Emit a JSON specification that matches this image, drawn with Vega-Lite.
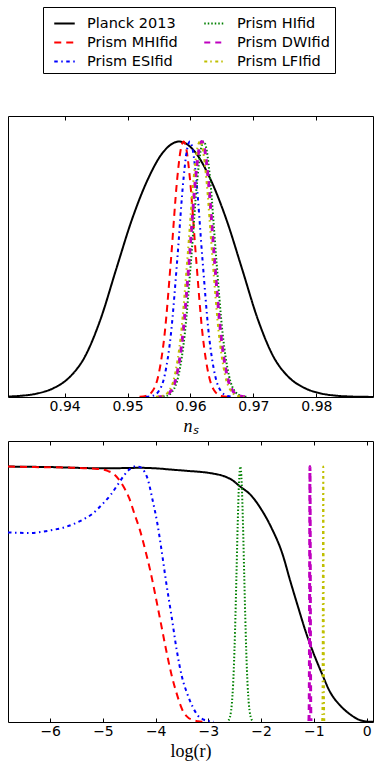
{
  "$schema": "https://vega.github.io/schema/vega-lite/v6.json",
  "background": "white",
  "padding": {"left": 7, "top": 6, "right": 0, "bottom": 0},
  "config": {
    "view": {"stroke": "#000", "strokeWidth": 1},
    "axis": {"labelFont": "DejaVu Sans", "labelFontSize": 14, "labelColor": "#000", "tickColor": "#000", "tickWidth": 1, "domain": false, "grid": false, "tickSize": -4, "labelPadding": 6, "titleFont": "Liberation Serif", "titleFontSize": 18, "titleFontWeight": "normal", "titleColor": "#000", "titlePadding": 4},
    "legend": {"labelFont": "DejaVu Sans", "labelFontSize": 14.5, "labelColor": "#000", "symbolType": "stroke", "symbolSize": 420, "symbolStrokeWidth": 2, "labelOffset": 11, "columnPadding": 20, "rowPadding": 1, "padding": 5, "symbolOffset": 5, "strokeColor": "#000", "fillColor": "#fff"}
  },
  "datasets": {
    "ns": [
      {"s": "Planck 2013", "x": 0.9307, "y": 0.0017}, {"s": "Planck 2013", "x": 0.9332, "y": 0.0051}, {"s": "Planck 2013", "x": 0.9357, "y": 0.014}, {"s": "Planck 2013", "x": 0.9382, "y": 0.0343}, {"s": "Planck 2013", "x": 0.9407, "y": 0.0756}, {"s": "Planck 2013", "x": 0.9432, "y": 0.157}, {"s": "Planck 2013", "x": 0.9457, "y": 0.304}, {"s": "Planck 2013", "x": 0.9482, "y": 0.501}, {"s": "Planck 2013", "x": 0.9507, "y": 0.695}, {"s": "Planck 2013", "x": 0.9532, "y": 0.851}, {"s": "Planck 2013", "x": 0.9557, "y": 0.96}, {"s": "Planck 2013", "x": 0.9582, "y": 1.0}, {"s": "Planck 2013", "x": 0.9607, "y": 0.96}, {"s": "Planck 2013", "x": 0.9632, "y": 0.851}, {"s": "Planck 2013", "x": 0.9657, "y": 0.695}, {"s": "Planck 2013", "x": 0.9682, "y": 0.501}, {"s": "Planck 2013", "x": 0.9707, "y": 0.304}, {"s": "Planck 2013", "x": 0.9732, "y": 0.157}, {"s": "Planck 2013", "x": 0.9757, "y": 0.0756}, {"s": "Planck 2013", "x": 0.9782, "y": 0.0343}, {"s": "Planck 2013", "x": 0.9807, "y": 0.014}, {"s": "Planck 2013", "x": 0.9832, "y": 0.0051}, {"s": "Planck 2013", "x": 0.9857, "y": 0.0017}, {"s": "Planck 2013", "x": 0.9882, "y": 0.0005}, {"s": "Planck 2013", "x": 0.9907, "y": 0.0001},

      {"s": "Prism MHIfid", "x": 0.9519, "y": 0.0005}, {"s": "Prism MHIfid", "x": 0.9529, "y": 0.0039}, {"s": "Prism MHIfid", "x": 0.9539, "y": 0.021}, {"s": "Prism MHIfid", "x": 0.9549, "y": 0.085}, {"s": "Prism MHIfid", "x": 0.9559, "y": 0.249}, {"s": "Prism MHIfid", "x": 0.9569, "y": 0.539}, {"s": "Prism MHIfid", "x": 0.9579, "y": 0.857}, {"s": "Prism MHIfid", "x": 0.9584, "y": 0.962}, {"s": "Prism MHIfid", "x": 0.9589, "y": 1.0}, {"s": "Prism MHIfid", "x": 0.9594, "y": 0.962}, {"s": "Prism MHIfid", "x": 0.9599, "y": 0.857}, {"s": "Prism MHIfid", "x": 0.9609, "y": 0.539}, {"s": "Prism MHIfid", "x": 0.9619, "y": 0.249}, {"s": "Prism MHIfid", "x": 0.9629, "y": 0.085}, {"s": "Prism MHIfid", "x": 0.9639, "y": 0.021}, {"s": "Prism MHIfid", "x": 0.9649, "y": 0.0039}, {"s": "Prism MHIfid", "x": 0.9659, "y": 0.0005},

      {"s": "Prism ESIfid", "x": 0.9529, "y": 0.0005}, {"s": "Prism ESIfid", "x": 0.9539, "y": 0.0039}, {"s": "Prism ESIfid", "x": 0.9549, "y": 0.021}, {"s": "Prism ESIfid", "x": 0.9559, "y": 0.085}, {"s": "Prism ESIfid", "x": 0.9569, "y": 0.249}, {"s": "Prism ESIfid", "x": 0.9579, "y": 0.539}, {"s": "Prism ESIfid", "x": 0.9589, "y": 0.857}, {"s": "Prism ESIfid", "x": 0.9594, "y": 0.962}, {"s": "Prism ESIfid", "x": 0.9599, "y": 1.0}, {"s": "Prism ESIfid", "x": 0.9604, "y": 0.962}, {"s": "Prism ESIfid", "x": 0.9609, "y": 0.857}, {"s": "Prism ESIfid", "x": 0.9619, "y": 0.539}, {"s": "Prism ESIfid", "x": 0.9629, "y": 0.249}, {"s": "Prism ESIfid", "x": 0.9639, "y": 0.085}, {"s": "Prism ESIfid", "x": 0.9649, "y": 0.021}, {"s": "Prism ESIfid", "x": 0.9659, "y": 0.0039}, {"s": "Prism ESIfid", "x": 0.9669, "y": 0.0005},

      {"s": "Prism HIfid", "x": 0.9551, "y": 0.0005}, {"s": "Prism HIfid", "x": 0.9561, "y": 0.0039}, {"s": "Prism HIfid", "x": 0.9571, "y": 0.021}, {"s": "Prism HIfid", "x": 0.9581, "y": 0.085}, {"s": "Prism HIfid", "x": 0.9591, "y": 0.249}, {"s": "Prism HIfid", "x": 0.9601, "y": 0.539}, {"s": "Prism HIfid", "x": 0.9611, "y": 0.857}, {"s": "Prism HIfid", "x": 0.9616, "y": 0.962}, {"s": "Prism HIfid", "x": 0.9621, "y": 1.0}, {"s": "Prism HIfid", "x": 0.9626, "y": 0.962}, {"s": "Prism HIfid", "x": 0.9631, "y": 0.857}, {"s": "Prism HIfid", "x": 0.9641, "y": 0.539}, {"s": "Prism HIfid", "x": 0.9651, "y": 0.249}, {"s": "Prism HIfid", "x": 0.9661, "y": 0.085}, {"s": "Prism HIfid", "x": 0.9671, "y": 0.021}, {"s": "Prism HIfid", "x": 0.9681, "y": 0.0039}, {"s": "Prism HIfid", "x": 0.9691, "y": 0.0005},

      {"s": "Prism DWIfid", "x": 0.9548, "y": 0.0005}, {"s": "Prism DWIfid", "x": 0.9558, "y": 0.0039}, {"s": "Prism DWIfid", "x": 0.9568, "y": 0.021}, {"s": "Prism DWIfid", "x": 0.9578, "y": 0.085}, {"s": "Prism DWIfid", "x": 0.9588, "y": 0.249}, {"s": "Prism DWIfid", "x": 0.9598, "y": 0.539}, {"s": "Prism DWIfid", "x": 0.9608, "y": 0.857}, {"s": "Prism DWIfid", "x": 0.9613, "y": 0.962}, {"s": "Prism DWIfid", "x": 0.9618, "y": 1.0}, {"s": "Prism DWIfid", "x": 0.9623, "y": 0.962}, {"s": "Prism DWIfid", "x": 0.9628, "y": 0.857}, {"s": "Prism DWIfid", "x": 0.9638, "y": 0.539}, {"s": "Prism DWIfid", "x": 0.9648, "y": 0.249}, {"s": "Prism DWIfid", "x": 0.9658, "y": 0.085}, {"s": "Prism DWIfid", "x": 0.9668, "y": 0.021}, {"s": "Prism DWIfid", "x": 0.9678, "y": 0.0039}, {"s": "Prism DWIfid", "x": 0.9688, "y": 0.0005},

      {"s": "Prism LFIfid", "x": 0.9545, "y": 0.0005}, {"s": "Prism LFIfid", "x": 0.9555, "y": 0.0039}, {"s": "Prism LFIfid", "x": 0.9565, "y": 0.021}, {"s": "Prism LFIfid", "x": 0.9575, "y": 0.085}, {"s": "Prism LFIfid", "x": 0.9585, "y": 0.249}, {"s": "Prism LFIfid", "x": 0.9595, "y": 0.539}, {"s": "Prism LFIfid", "x": 0.9605, "y": 0.857}, {"s": "Prism LFIfid", "x": 0.961, "y": 0.962}, {"s": "Prism LFIfid", "x": 0.9615, "y": 1.0}, {"s": "Prism LFIfid", "x": 0.962, "y": 0.962}, {"s": "Prism LFIfid", "x": 0.9625, "y": 0.857}, {"s": "Prism LFIfid", "x": 0.9635, "y": 0.539}, {"s": "Prism LFIfid", "x": 0.9645, "y": 0.249}, {"s": "Prism LFIfid", "x": 0.9655, "y": 0.085}, {"s": "Prism LFIfid", "x": 0.9665, "y": 0.021}, {"s": "Prism LFIfid", "x": 0.9675, "y": 0.0039}, {"s": "Prism LFIfid", "x": 0.9685, "y": 0.0005}
    ],
    "logr": [
      {"s": "Planck 2013", "x": -6.8, "y": 1.0}, {"s": "Planck 2013", "x": -6.4, "y": 0.999}, {"s": "Planck 2013", "x": -6.0, "y": 0.998}, {"s": "Planck 2013", "x": -5.5, "y": 0.995}, {"s": "Planck 2013", "x": -5.0, "y": 0.993}, {"s": "Planck 2013", "x": -4.6, "y": 0.994}, {"s": "Planck 2013", "x": -4.3, "y": 0.995}, {"s": "Planck 2013", "x": -4.0, "y": 0.993}, {"s": "Planck 2013", "x": -3.7, "y": 0.988}, {"s": "Planck 2013", "x": -3.4, "y": 0.983}, {"s": "Planck 2013", "x": -3.1, "y": 0.978}, {"s": "Planck 2013", "x": -2.9, "y": 0.972}, {"s": "Planck 2013", "x": -2.7, "y": 0.962}, {"s": "Planck 2013", "x": -2.55, "y": 0.947}, {"s": "Planck 2013", "x": -2.4, "y": 0.922}, {"s": "Planck 2013", "x": -2.2, "y": 0.889}, {"s": "Planck 2013", "x": -2.0, "y": 0.833}, {"s": "Planck 2013", "x": -1.8, "y": 0.758}, {"s": "Planck 2013", "x": -1.6, "y": 0.66}, {"s": "Planck 2013", "x": -1.45, "y": 0.553}, {"s": "Planck 2013", "x": -1.3, "y": 0.45}, {"s": "Planck 2013", "x": -1.15, "y": 0.35}, {"s": "Planck 2013", "x": -1.0, "y": 0.265}, {"s": "Planck 2013", "x": -0.85, "y": 0.19}, {"s": "Planck 2013", "x": -0.7, "y": 0.12}, {"s": "Planck 2013", "x": -0.5, "y": 0.064}, {"s": "Planck 2013", "x": -0.3, "y": 0.028}, {"s": "Planck 2013", "x": -0.15, "y": 0.009}, {"s": "Planck 2013", "x": 0.0, "y": 0.002}, {"s": "Planck 2013", "x": 0.12, "y": 0.0005},

      {"s": "Prism MHIfid", "x": -6.8, "y": 1.0}, {"s": "Prism MHIfid", "x": -6.3, "y": 0.998}, {"s": "Prism MHIfid", "x": -5.7, "y": 0.996}, {"s": "Prism MHIfid", "x": -5.2, "y": 0.992}, {"s": "Prism MHIfid", "x": -5.0, "y": 0.988}, {"s": "Prism MHIfid", "x": -4.9, "y": 0.982}, {"s": "Prism MHIfid", "x": -4.8, "y": 0.972}, {"s": "Prism MHIfid", "x": -4.7, "y": 0.95}, {"s": "Prism MHIfid", "x": -4.6, "y": 0.918}, {"s": "Prism MHIfid", "x": -4.5, "y": 0.875}, {"s": "Prism MHIfid", "x": -4.4, "y": 0.813}, {"s": "Prism MHIfid", "x": -4.3, "y": 0.752}, {"s": "Prism MHIfid", "x": -4.2, "y": 0.675}, {"s": "Prism MHIfid", "x": -4.1, "y": 0.59}, {"s": "Prism MHIfid", "x": -4.0, "y": 0.49}, {"s": "Prism MHIfid", "x": -3.9, "y": 0.385}, {"s": "Prism MHIfid", "x": -3.8, "y": 0.28}, {"s": "Prism MHIfid", "x": -3.7, "y": 0.185}, {"s": "Prism MHIfid", "x": -3.6, "y": 0.11}, {"s": "Prism MHIfid", "x": -3.5, "y": 0.05}, {"s": "Prism MHIfid", "x": -3.4, "y": 0.02}, {"s": "Prism MHIfid", "x": -3.3, "y": 0.008}, {"s": "Prism MHIfid", "x": -3.2, "y": 0.003}, {"s": "Prism MHIfid", "x": -3.1, "y": 0.001},

      {"s": "Prism ESIfid", "x": -6.8, "y": 0.742}, {"s": "Prism ESIfid", "x": -6.4, "y": 0.74}, {"s": "Prism ESIfid", "x": -6.0, "y": 0.75}, {"s": "Prism ESIfid", "x": -5.7, "y": 0.764}, {"s": "Prism ESIfid", "x": -5.4, "y": 0.79}, {"s": "Prism ESIfid", "x": -5.2, "y": 0.815}, {"s": "Prism ESIfid", "x": -5.0, "y": 0.855}, {"s": "Prism ESIfid", "x": -4.85, "y": 0.89}, {"s": "Prism ESIfid", "x": -4.7, "y": 0.935}, {"s": "Prism ESIfid", "x": -4.6, "y": 0.965}, {"s": "Prism ESIfid", "x": -4.5, "y": 0.988}, {"s": "Prism ESIfid", "x": -4.4, "y": 1.0}, {"s": "Prism ESIfid", "x": -4.3, "y": 0.998}, {"s": "Prism ESIfid", "x": -4.2, "y": 0.975}, {"s": "Prism ESIfid", "x": -4.15, "y": 0.95}, {"s": "Prism ESIfid", "x": -4.06, "y": 0.87}, {"s": "Prism ESIfid", "x": -3.97, "y": 0.779}, {"s": "Prism ESIfid", "x": -3.9, "y": 0.688}, {"s": "Prism ESIfid", "x": -3.8, "y": 0.545}, {"s": "Prism ESIfid", "x": -3.7, "y": 0.415}, {"s": "Prism ESIfid", "x": -3.6, "y": 0.28}, {"s": "Prism ESIfid", "x": -3.5, "y": 0.175}, {"s": "Prism ESIfid", "x": -3.4, "y": 0.11}, {"s": "Prism ESIfid", "x": -3.3, "y": 0.06}, {"s": "Prism ESIfid", "x": -3.2, "y": 0.025}, {"s": "Prism ESIfid", "x": -3.1, "y": 0.01}, {"s": "Prism ESIfid", "x": -3.0, "y": 0.004}, {"s": "Prism ESIfid", "x": -2.9, "y": 0.001},

      {"s": "Prism HIfid", "x": -2.62, "y": 0.006}, {"s": "Prism HIfid", "x": -2.595, "y": 0.017}, {"s": "Prism HIfid", "x": -2.57, "y": 0.044}, {"s": "Prism HIfid", "x": -2.545, "y": 0.101}, {"s": "Prism HIfid", "x": -2.52, "y": 0.203}, {"s": "Prism HIfid", "x": -2.495, "y": 0.36}, {"s": "Prism HIfid", "x": -2.47, "y": 0.563}, {"s": "Prism HIfid", "x": -2.445, "y": 0.775}, {"s": "Prism HIfid", "x": -2.42, "y": 0.938}, {"s": "Prism HIfid", "x": -2.395, "y": 1.0}, {"s": "Prism HIfid", "x": -2.37, "y": 0.938}, {"s": "Prism HIfid", "x": -2.345, "y": 0.775}, {"s": "Prism HIfid", "x": -2.32, "y": 0.563}, {"s": "Prism HIfid", "x": -2.295, "y": 0.36}, {"s": "Prism HIfid", "x": -2.27, "y": 0.203}, {"s": "Prism HIfid", "x": -2.245, "y": 0.101}, {"s": "Prism HIfid", "x": -2.22, "y": 0.044}, {"s": "Prism HIfid", "x": -2.195, "y": 0.017}, {"s": "Prism HIfid", "x": -2.17, "y": 0.006},

      {"s": "Prism DWIfid", "x": -1.095, "y": 0.004}, {"s": "Prism DWIfid", "x": -1.09, "y": 0.044}, {"s": "Prism DWIfid", "x": -1.087, "y": 0.135}, {"s": "Prism DWIfid", "x": -1.084, "y": 0.325}, {"s": "Prism DWIfid", "x": -1.081, "y": 0.607}, {"s": "Prism DWIfid", "x": -1.078, "y": 0.882}, {"s": "Prism DWIfid", "x": -1.075, "y": 1.0}, {"s": "Prism DWIfid", "x": -1.072, "y": 0.882}, {"s": "Prism DWIfid", "x": -1.069, "y": 0.607}, {"s": "Prism DWIfid", "x": -1.066, "y": 0.325}, {"s": "Prism DWIfid", "x": -1.063, "y": 0.135}, {"s": "Prism DWIfid", "x": -1.06, "y": 0.044}, {"s": "Prism DWIfid", "x": -1.055, "y": 0.004},

      {"s": "Prism LFIfid", "x": -0.843, "y": 0.004}, {"s": "Prism LFIfid", "x": -0.838, "y": 0.044}, {"s": "Prism LFIfid", "x": -0.835, "y": 0.135}, {"s": "Prism LFIfid", "x": -0.832, "y": 0.325}, {"s": "Prism LFIfid", "x": -0.829, "y": 0.607}, {"s": "Prism LFIfid", "x": -0.826, "y": 0.882}, {"s": "Prism LFIfid", "x": -0.823, "y": 1.0}, {"s": "Prism LFIfid", "x": -0.82, "y": 0.882}, {"s": "Prism LFIfid", "x": -0.817, "y": 0.607}, {"s": "Prism LFIfid", "x": -0.814, "y": 0.325}, {"s": "Prism LFIfid", "x": -0.811, "y": 0.135}, {"s": "Prism LFIfid", "x": -0.808, "y": 0.044}, {"s": "Prism LFIfid", "x": -0.803, "y": 0.004}
    ]
  },
  "resolve": {"scale": {"x": "independent", "y": "independent", "color": "shared", "strokeDash": "shared"}},
  "spacing": 4,
  "vconcat": [
    {
      "width": 365, "height": 281,
      "data": {"name": "ns"},
      "resolve": {"axis": {"x": "independent"}},
      "layer": [
        {
          "transform": [{"filter": "datum.s === 'Planck 2013'"}],
          "mark": {"type": "line", "interpolate": "monotone", "clip": true, "strokeWidth": 2, "strokeCap": "butt"},
          "encoding": {
            "x": {"field": "x", "type": "quantitative", "scale": {"domain": [0.931, 0.989], "nice": false, "zero": false}, "axis": {"orient": "bottom", "values": [0.94, 0.95, 0.96, 0.97, 0.98], "format": ".2f", "title": "nₛ", "titleFontStyle": "italic"}},
            "y": {"field": "y", "type": "quantitative", "scale": {"domain": [0, 1.1], "nice": false}, "axis": null},
            "color": {"field": "s", "type": "nominal", "scale": {"domain": ["Planck 2013", "Prism MHIfid", "Prism ESIfid", "Prism HIfid", "Prism DWIfid", "Prism LFIfid"], "range": ["#000000", "#ff0000", "#0000ff", "#008000", "#bf00bf", "#bfbf00"]}, "legend": {"orient": "none", "legendX": 35, "legendY": -109, "columns": 2, "title": null}},
            "strokeDash": {"field": "s", "type": "nominal", "scale": {"domain": ["Planck 2013", "Prism MHIfid", "Prism ESIfid", "Prism HIfid", "Prism DWIfid", "Prism LFIfid"], "range": [[1, 0], [7, 5], [3.5, 3.5, 1.5, 3.5], [1.5, 2], [6, 5], [3, 3, 1.5, 3.5]]}, "legend": {"orient": "none", "legendX": 35, "legendY": -109, "columns": 2, "title": null}}
          }
        },
        {
          "transform": [{"filter": "datum.s !== 'Planck 2013'"}],
          "mark": {"type": "line", "interpolate": "monotone", "clip": true, "strokeCap": "butt"},
          "encoding": {
            "x": {"field": "x", "type": "quantitative", "axis": {"orient": "top", "values": [0.94, 0.95, 0.96, 0.97, 0.98], "labels": false, "title": null}},
            "y": {"field": "y", "type": "quantitative"},
            "color": {"field": "s", "type": "nominal"},
            "strokeDash": {"field": "s", "type": "nominal"},
            "strokeWidth": {"condition": {"test": "datum.s === 'Prism DWIfid'", "value": 3}, "value": 2}
          }
        }
      ]
    },
    {
      "width": 365, "height": 281,
      "data": {"name": "logr"},
      "resolve": {"axis": {"x": "independent"}},
      "layer": [
        {
          "transform": [{"filter": "datum.s === 'Planck 2013'"}],
          "mark": {"type": "line", "interpolate": "monotone", "clip": true, "strokeWidth": 2, "strokeCap": "butt"},
          "encoding": {
            "x": {"field": "x", "type": "quantitative", "scale": {"domain": [-6.8, 0.12], "nice": false, "zero": false}, "axis": {"orient": "bottom", "values": [-6, -5, -4, -3, -2, -1, 0], "format": "d", "title": "log(r)"}},
            "y": {"field": "y", "type": "quantitative", "scale": {"domain": [0, 1.1], "nice": false}, "axis": null},
            "color": {"field": "s", "type": "nominal"},
            "strokeDash": {"field": "s", "type": "nominal"}
          }
        },
        {
          "transform": [{"filter": "datum.s !== 'Planck 2013'"}],
          "mark": {"type": "line", "interpolate": "monotone", "clip": true, "strokeCap": "butt"},
          "encoding": {
            "x": {"field": "x", "type": "quantitative", "axis": {"orient": "top", "values": [-6, -5, -4, -3, -2, -1, 0], "labels": false, "title": null}},
            "y": {"field": "y", "type": "quantitative"},
            "color": {"field": "s", "type": "nominal"},
            "strokeDash": {"field": "s", "type": "nominal"},
            "strokeWidth": {"condition": {"test": "datum.s === 'Prism DWIfid'", "value": 3}, "value": 2}
          }
        }
      ]
    }
  ]
}
